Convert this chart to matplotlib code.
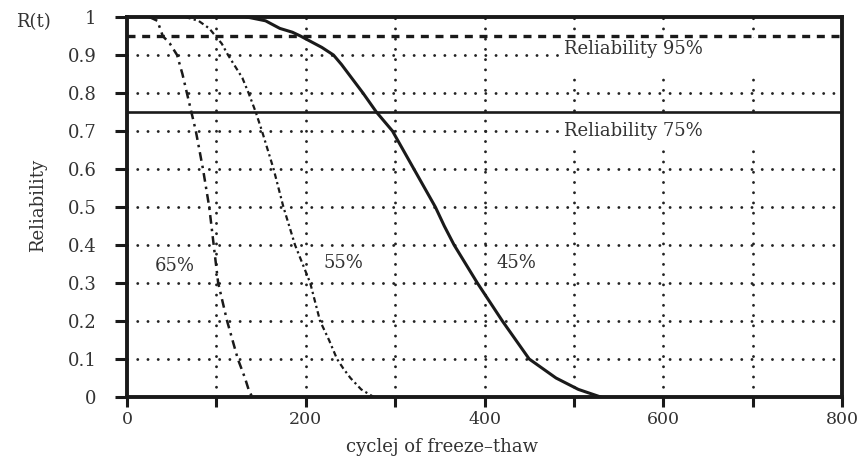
import matplotlib
matplotlib.use("Agg")
import matplotlib.pyplot as plt
from matplotlib.ticker import MultipleLocator

plt.rcParams['font.family'] = 'DejaVu Serif'
plt.rcParams['font.size'] = 13

# reliability curves (cycles, R(t))
x65 = [25, 34, 40, 48, 56, 62, 67, 72, 77, 85, 92, 97, 102, 112, 118, 124, 128, 132, 136, 140]
y65 = [1.0, 0.99, 0.95, 0.93, 0.9, 0.85, 0.8, 0.75, 0.7, 0.6, 0.5, 0.4, 0.3, 0.2, 0.15, 0.1, 0.075, 0.05, 0.02, 0.0]

x55 = [65, 80, 92, 99, 106, 113, 121, 129, 136, 144, 151, 164, 175, 188, 205, 216, 226, 235, 242, 250, 262, 276]
y55 = [1.0, 0.99, 0.97, 0.95, 0.93, 0.9, 0.87, 0.84, 0.8, 0.75, 0.7, 0.6, 0.5, 0.4, 0.3, 0.2, 0.15, 0.1, 0.075, 0.05, 0.02, 0.0]

x45 = [134, 155, 171, 185, 194, 206, 218, 231, 240, 248, 264, 279, 288, 297, 309, 321, 333, 345, 355, 366,
       379, 392, 406, 420, 435, 450, 465, 480, 505, 530]
y45 = [1.0, 0.99, 0.97, 0.96, 0.95, 0.935, 0.92, 0.9, 0.875, 0.85, 0.8, 0.75, 0.725, 0.7, 0.65, 0.6, 0.55, 0.5, 0.45, 0.4,
       0.35, 0.3, 0.25, 0.2, 0.15, 0.1, 0.075, 0.05, 0.02, 0.0]

curve_labels = ['65%', '55%', '45%']
label_x = [53, 242, 436]
label_y = [0.345, 0.353, 0.353]

ref_levels = [0.95, 0.75]
ref_labels = ['Reliability 95%', 'Reliability 75%']

x_ticks = [0, 200, 400, 600, 800]
y_ticks = [0, 0.1, 0.2, 0.3, 0.4, 0.5, 0.6, 0.7, 0.8, 0.9, 1.0]
y_ticklabels = ['0', '0.1', '0.2', '0.3', '0.4', '0.5', '0.6', '0.7', '0.8', '0.9', '1']

fig = plt.figure(figsize=(8.57, 4.62), dpi=100)
ax = fig.add_axes([0.1482, 0.1407, 0.8343, 0.8225])

# dotted grid made of round dots
dot = dict(color='#222222', lw=2.1, linestyle=(0, (0.01, 3.5)), dash_capstyle='round', zorder=1)
for yv in y_ticks[1:-1]:
    ax.axhline(yv, **dot)
for xv in range(100, 800, 100):
    ax.axvline(xv, **dot)

# blank areas behind the reference labels
ax.axhspan(0.845, 0.945, xmin=0.6125, xmax=1, color='white', lw=0, zorder=1.5)
ax.axhspan(0.655, 0.74, xmin=0.6125, xmax=1, color='white', lw=0, zorder=1.5)

ax.axhline(ref_levels[0], color='#1a1a1a', lw=2.4, linestyle=(0, (2.4, 2.0)), zorder=2)
ax.axhline(ref_levels[1], color='#1a1a1a', lw=1.9, zorder=2)

ax.plot(x65, y65, color='#1a1a1a', lw=1.8, linestyle=(0, (3.5, 2, 1, 2)), zorder=3)
ax.plot(x55, y55, color='#1a1a1a', lw=1.6, linestyle=(0, (2.5, 1.5, 1, 1.5)), zorder=3)
ax.plot(x45, y45, color='#1a1a1a', lw=2.2, zorder=3)

for t, xx, yy in zip(curve_labels, label_x, label_y):
    ax.text(xx, yy, t, ha='center', va='center', color='#333333', zorder=4)
ax.text(489, 0.915, ref_labels[0], ha='left', va='center', color='#333333', zorder=4)
ax.text(489, 0.70, ref_labels[1], ha='left', va='center', color='#333333', zorder=4)

ax.set_xlim(0, 800)
ax.set_ylim(0, 1)
ax.set_xticks(x_ticks)
ax.xaxis.set_minor_locator(MultipleLocator(100))
ax.set_yticks(y_ticks)
ax.set_yticklabels(y_ticklabels)
ax.tick_params(axis='x', which='both', direction='out', length=7, width=2.2, pad=3,
               colors='#1a1a1a', labelcolor='#333333', labelsize=12.5)
ax.tick_params(axis='y', direction='out', length=9, width=2.2, pad=13,
               colors='#1a1a1a', labelcolor='#333333')

for s in ax.spines.values():
    s.set_linewidth(2.8)
    s.set_color('#1a1a1a')

fig.text(33 / 857, 1 - 22 / 462, 'R(t)', ha='center', va='center', color='#333333')
fig.text(38 / 857, 1 - 205 / 462, 'Reliability', ha='center', va='center', rotation=90, color='#333333')
fig.text(442 / 857, 1 - 447 / 462, 'cyclej of freeze\u2013thaw', ha='center', va='center', color='#333333')

fig.savefig('out.png', dpi=100)
